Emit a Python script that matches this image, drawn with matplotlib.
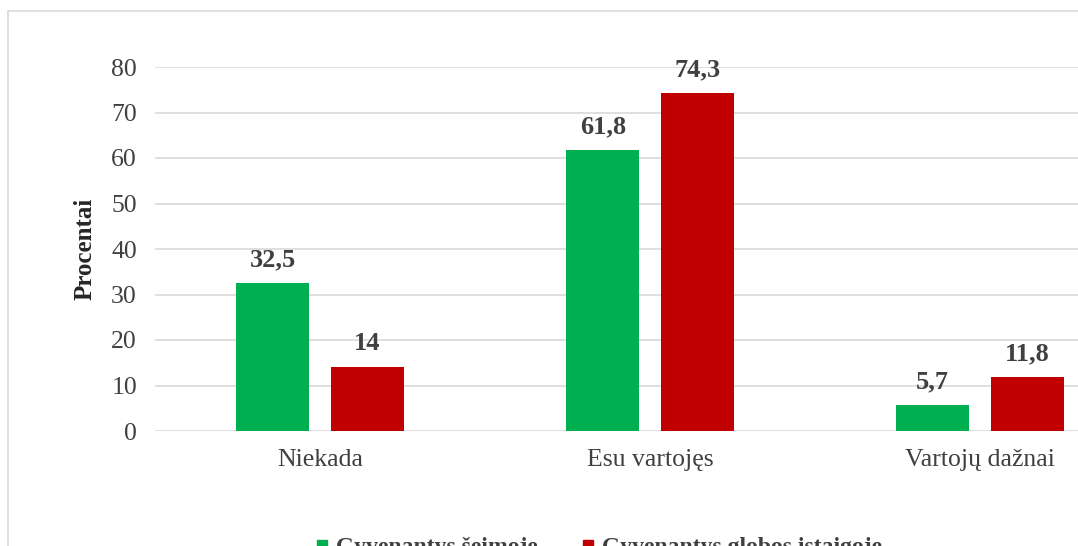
import matplotlib.pyplot as plt
import matplotlib.patches as patches
import numpy as np

categories = ['Niekada', 'Esu vartojęs', 'Vartojų dažnai']
seimoje = [32.5, 61.8, 5.7]
istaigoje = [14, 74.3, 11.8]
series_names = ['Gyvenantys šeimoje', 'Gyvenantys globos įstaigoje']
value_labels_1 = ['32,5', '61,8', '5,7']
value_labels_2 = ['14', '74,3', '11,8']

green = '#00b050'
red = '#c00000'
txt = '#404040'

plt.rcParams['font.family'] = ['Liberation Serif', 'DejaVu Serif']

fig = plt.figure(figsize=(10.78, 5.46), dpi=100)

# outer chart border
fig.patches.append(patches.Rectangle((8 / 1078, -0.1), 1.2, (546 - 11) / 546 + 0.1,
                                     transform=fig.transFigure, fill=False,
                                     edgecolor='#d9d9d9', linewidth=1.2))

ax = fig.add_axes([155 / 1078, 115 / 546, 990 / 1078, 364 / 546])
x = np.arange(len(categories))
w = 0.221
off = 0.143
b1 = ax.bar(x - off, seimoje, w, color=green, zorder=3)
b2 = ax.bar(x + off, istaigoje, w, color=red, zorder=3)

for bars, labs in ((b1, value_labels_1), (b2, value_labels_2)):
    for r, lab in zip(bars, labs):
        ax.text(r.get_x() + r.get_width() / 2, r.get_height() + 2.6, lab,
                ha='center', va='bottom', fontsize=19, fontweight='bold', color=txt)

ax.set_xlim(-0.5, 2.5)
ax.set_ylim(0, 80)
ax.set_yticks(range(0, 81, 10))
ax.yaxis.grid(True, color='#d9d9d9', linewidth=1.2, zorder=0)
ax.set_xticks(x)
ax.set_xticklabels(categories)
ax.tick_params(axis='both', length=0, labelsize=18.5, labelcolor=txt)
ax.tick_params(axis='x', pad=13)
ax.tick_params(axis='y', pad=13)
for s in ax.spines.values():
    s.set_visible(False)
ax.set_ylabel('Procentai', fontsize=18, fontweight='bold', color='#262626')
ax.yaxis.set_label_coords(-0.059, 0.5)

# legend (partly below the visible area)
ly = (546 - 553) / 546
my = (546 - 550) / 546
fig.patches.append(patches.Rectangle((317 / 1078, my), 10 / 1078, 10 / 546,
                                     transform=fig.transFigure, color=green))
fig.text(336 / 1078, ly, series_names[0], fontsize=17, fontweight='bold',
         color=txt, va='baseline')
fig.patches.append(patches.Rectangle((583 / 1078, my), 10 / 1078, 10 / 546,
                                     transform=fig.transFigure, color=red))
fig.text(602 / 1078, ly, series_names[1], fontsize=17, fontweight='bold',
         color=txt, va='baseline')

fig.savefig('out.png', dpi=100)
